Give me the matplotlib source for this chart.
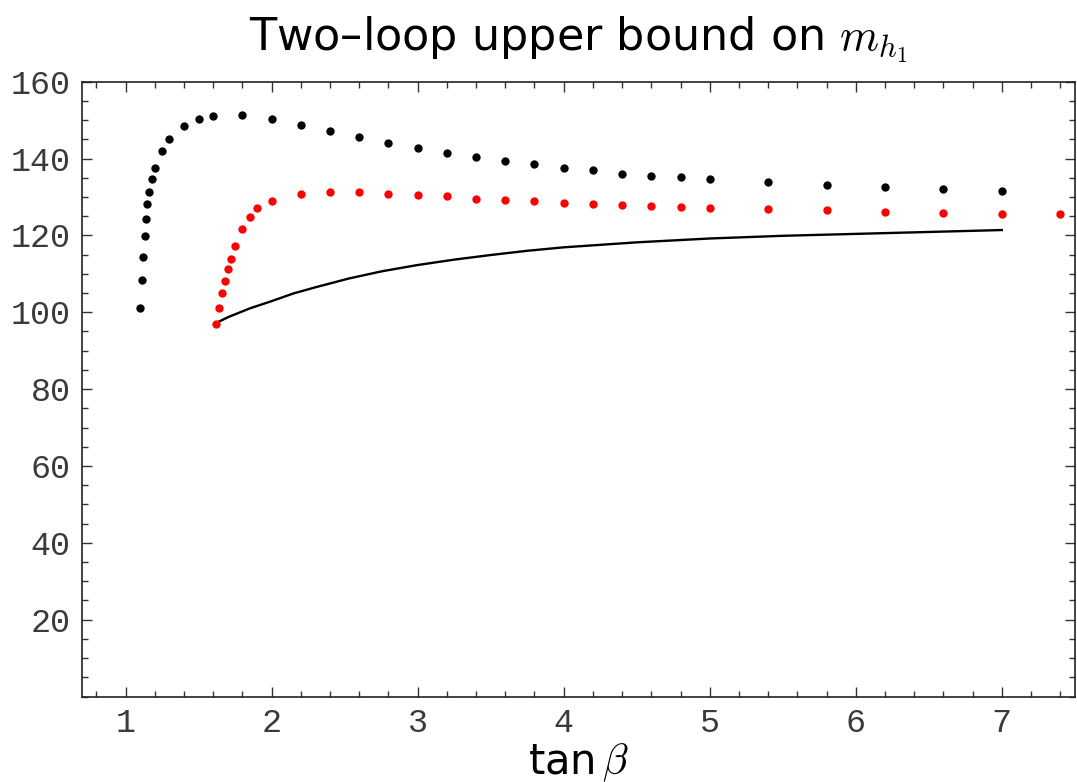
import numpy as np
import matplotlib
matplotlib.use('Agg')
import matplotlib.pyplot as plt
from matplotlib.ticker import MultipleLocator

plt.rcParams['mathtext.fontset'] = 'cm'

# black points (upper curve)
tb_black = [1.10, 1.11, 1.12, 1.13, 1.14, 1.15, 1.16, 1.18, 1.20, 1.25, 1.30, 1.40, 1.50, 1.60,
            1.8, 2.0, 2.2, 2.4, 2.6, 2.8, 3.0, 3.2, 3.4, 3.6, 3.8, 4.0, 4.2, 4.4, 4.6, 4.8, 5.0,
            5.4, 5.8, 6.2, 6.6, 7.0]
mh_black = [101.1, 108.3, 114.4, 119.8, 124.3, 128.2, 131.2, 134.8, 137.6, 142.1, 145.0, 148.6, 150.3, 151.2,
            151.3, 150.2, 148.7, 147.3, 145.6, 144.1, 142.8, 141.5, 140.4, 139.4, 138.5, 137.6, 136.9, 136.1, 135.5, 135.1, 134.6,
            133.8, 133.1, 132.5, 132.0, 131.5]

# red points
tb_red = [1.62, 1.64, 1.66, 1.68, 1.70, 1.72, 1.75, 1.80, 1.85, 1.90,
          2.0, 2.2, 2.4, 2.6, 2.8, 3.0, 3.2, 3.4, 3.6, 3.8, 4.0, 4.2, 4.4, 4.6, 4.8, 5.0,
          5.4, 5.8, 6.2, 6.6, 7.0, 7.4]
mh_red = [97.0, 101.2, 105.1, 108.2, 111.3, 113.8, 117.2, 121.6, 124.9, 127.2,
          129.0, 130.7, 131.2, 131.2, 130.8, 130.6, 130.2, 129.6, 129.3, 128.9, 128.5, 128.2, 127.9, 127.6, 127.4, 127.2,
          126.9, 126.5, 126.2, 125.9, 125.7, 125.5]

# solid line
tb_line = [1.62, 1.70, 1.85, 2.0, 2.15, 2.3, 2.53, 2.76, 3.0, 3.25, 3.5, 3.75, 4.0, 4.5, 5.0, 5.5, 6.0, 6.5, 7.0]
mh_line = [97.2, 98.7, 101.0, 102.9, 104.9, 106.5, 108.8, 110.7, 112.3, 113.7, 114.9, 116.0, 116.9, 118.2, 119.2, 119.9, 120.4, 120.9, 121.4]

fig = plt.figure(figsize=(10.77, 7.82), dpi=100)
ax = fig.add_axes([0.0759, 0.1093, 0.9221, 0.7862])

ax.plot(tb_line, mh_line, color='black', lw=1.7)
ax.plot(tb_black, mh_black, 'o', color='black', ms=6, mec='none')
ax.plot(tb_red, mh_red, 'o', color='red', ms=6, mec='none')

ax.set_xlim(0.7, 7.5)
ax.set_ylim(0, 160)
ax.xaxis.set_major_locator(MultipleLocator(1))
ax.xaxis.set_minor_locator(MultipleLocator(0.2))
ax.yaxis.set_minor_locator(MultipleLocator(5))
ax.set_yticks([20, 40, 60, 80, 100, 120, 140, 160])
ax.tick_params(which='both', direction='in', top=True, right=True, color='#333333')
ax.tick_params(which='major', length=7, width=1)
ax.tick_params(which='minor', length=4, width=1)
ax.tick_params(labelsize=24, pad=8)
for lab in ax.get_xticklabels() + ax.get_yticklabels():
    lab.set_family('Liberation Mono')
    lab.set_color('#3a3a3a')
for s in ax.spines.values():
    s.set_linewidth(1.2)
    s.set_color('#222222')

ax.set_title('Two\u2013loop upper bound on $m_{h_1}$', fontsize=32, family='DejaVu Sans', pad=23)
ax.set_xlabel(r'tan$\,\beta$', fontsize=30, family='DejaVu Sans', labelpad=2)

plt.savefig('out.png', dpi=100)
